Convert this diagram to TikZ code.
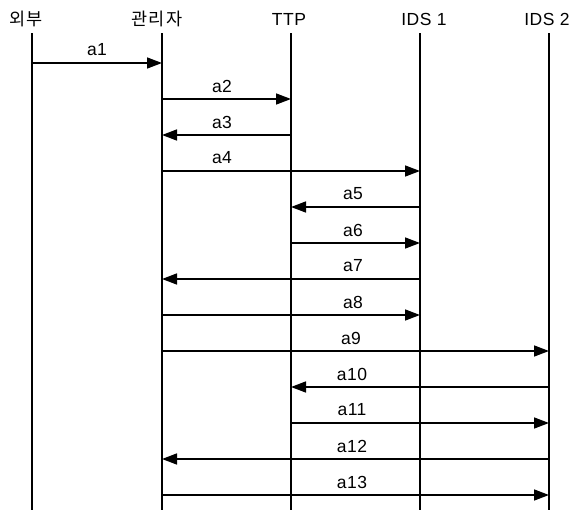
\documentclass[tikz,border=0pt]{standalone}
\usepackage{fontspec}
\setmainfont{Liberation Sans}[LetterSpace=3]
\newfontfamily\krfont[LetterSpace=10]{Noto Sans CJK KR}
\usetikzlibrary{arrows.meta}
\begin{document}
\begin{tikzpicture}[x=1pt,y=-1pt,
  life/.style={line width=1.5pt},
  msg/.style={line width=1.5pt,-{Triangle[length=15pt,width=11pt]}},
  lbl/.style={font=\fontsize{17.5}{20}\selectfont,inner sep=0pt},
  hdr/.style={font=\fontsize{17.5}{20}\selectfont,inner sep=0pt}]
\useasboundingbox (0,0) rectangle (574,514);
% headers
\node[hdr] (h1) at (26,19) {\krfont 외부};
\node[hdr] (h2) at (157,19) {\krfont 관리자};
\node[hdr] (h3) at (289,19) {TTP};
\node[hdr] (h4) at (424,19) {IDS 1};
\node[hdr] (h5) at (547,19) {IDS 2};
% lifelines and row coordinates
\foreach \i/\x in {1/32,2/162,3/291,4/420,5/549}{
  \coordinate (t\i) at (\x,33);
  \coordinate (b\i) at (\x,510);
  \draw[life] (t\i) -- (b\i);
  \foreach \k in {1,...,13}{
    \coordinate (p\i-\k) at (\x,{63+36*(\k-1)});
  }
}
% messages
\foreach \k/\s/\e/\lx in {1/1/2/97, 2/2/3/222, 3/3/2/222, 4/2/4/222, 5/4/3/353,
  6/3/4/353, 7/4/2/353, 8/2/4/353, 9/2/5/351, 10/5/3/352, 11/3/5/352,
  12/5/2/352, 13/2/5/352}{
  \draw[msg] (p\s-\k) -- (p\e-\k);
  \node[lbl] (l\k) at (\lx,{63+36*(\k-1)-13}) {a\k};
}
\end{tikzpicture}
\end{document}
